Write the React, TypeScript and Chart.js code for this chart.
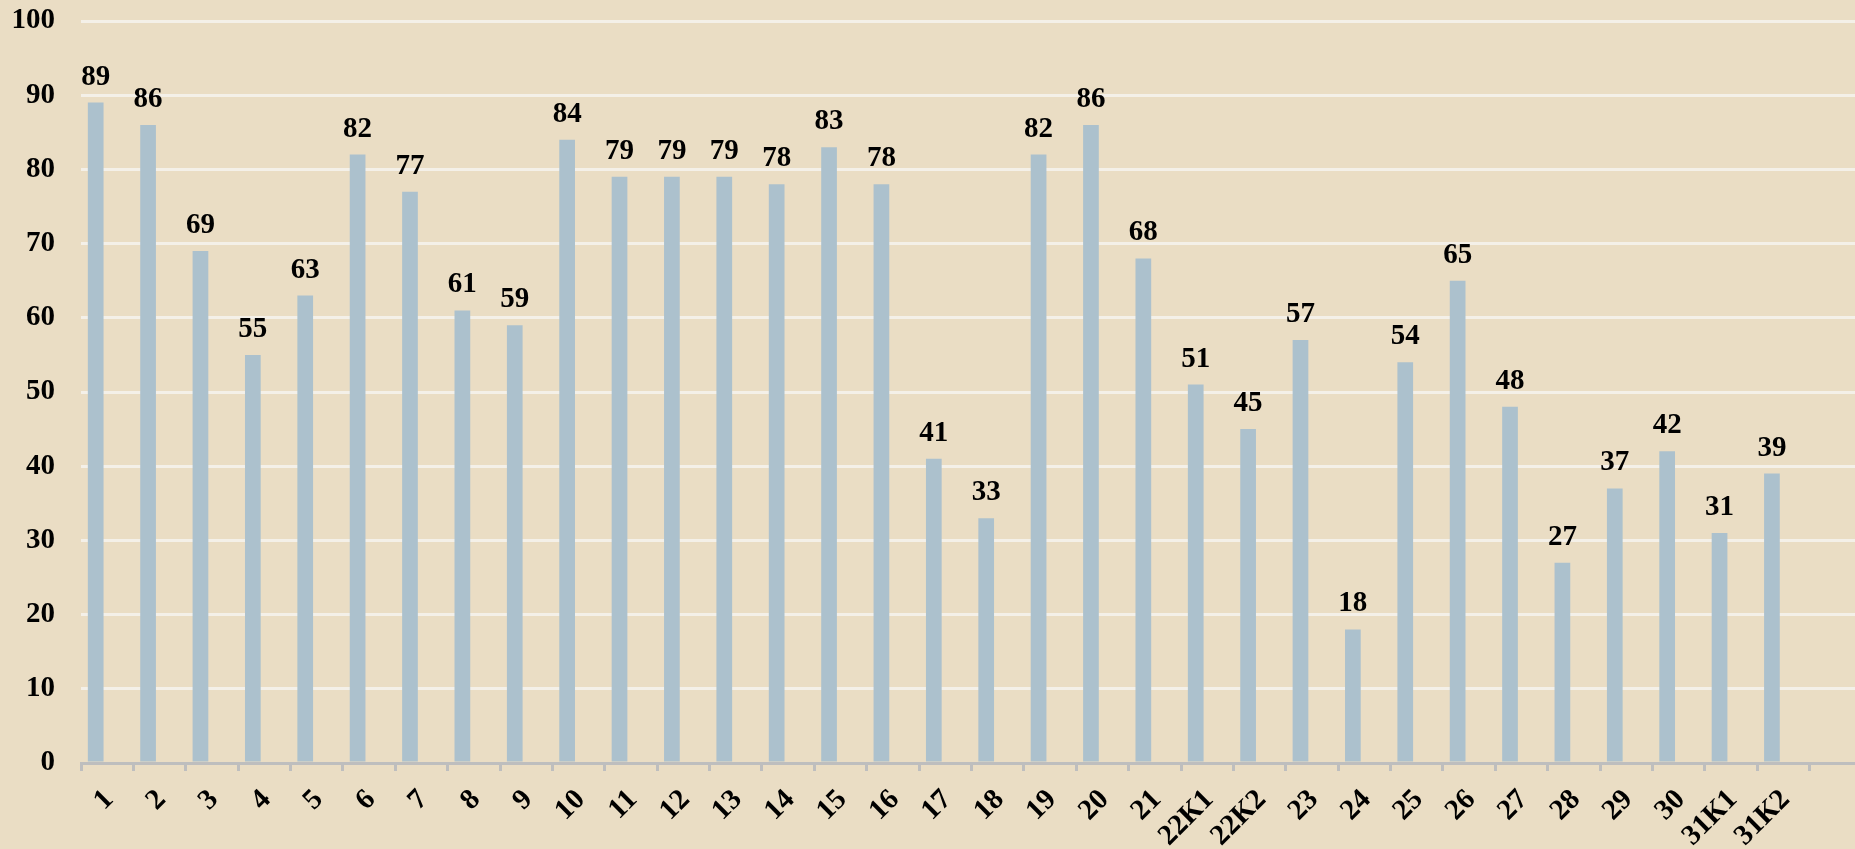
import React, { useEffect, useRef } from "react";
import { Chart, registerables } from "chart.js";

Chart.register(...registerables);

const categories: string[] = [
  "1", "2", "3", "4", "5", "6", "7", "8", "9", "10", "11", "12", "13", "14", "15", "16",
  "17", "18", "19", "20", "21", "22К1", "22К2", "23", "24", "25", "26", "27", "28", "29", "30",
  "31К1", "31К2", "",
];

const values: (number | null)[] = [
  89, 86, 69, 55, 63, 82, 77, 61, 59, 84, 79, 79, 79, 78, 83, 78,
  41, 33, 82, 86, 68, 51, 45, 57, 18, 54, 65, 48, 27, 37, 42,
  31, 39, null,
];

const emptySeries: (number | null)[] = categories.map(() => null);

const yTicks: number[] = [0, 10, 20, 30, 40, 50, 60, 70, 80, 90, 100];

const BG = "rgb(234,221,196)";
const BAR = "rgb(172,193,205)";
const FONT_FAMILY = "'Liberation Serif', 'Times New Roman', serif";

const dataLabels = {
  id: "dataLabels",
  afterDatasetsDraw(chart: any) {
    const ctx = chart.ctx;
    const meta = chart.getDatasetMeta(0);
    ctx.save();
    ctx.font = `bold 29px ${FONT_FAMILY}`;
    ctx.fillStyle = "#000";
    ctx.textAlign = "center";
    ctx.textBaseline = "alphabetic";
    meta.data.forEach((el: any, i: number) => {
      const v = values[i];
      if (v === null || v === undefined) return;
      ctx.fillText(String(v), el.x, el.y - 18);
    });
    ctx.restore();
  },
};

export default function App() {
  const ref = useRef<HTMLCanvasElement | null>(null);
  useEffect(() => {
    if (!ref.current) return;
    const chart = new Chart(ref.current, {
      type: "bar",
      data: {
        labels: categories,
        datasets: [
          {
            data: values,
            backgroundColor: BAR,
            borderWidth: 0,
            categoryPercentage: 0.878,
            barPercentage: 0.683,
          },
          {
            data: emptySeries,
            backgroundColor: BAR,
            borderWidth: 0,
            categoryPercentage: 0.878,
            barPercentage: 0.683,
          },
        ],
      },
      options: {
        responsive: false,
        animation: false,
        devicePixelRatio: 1,
        layout: { padding: { top: 21, left: 0, right: 0, bottom: 0 } },
        plugins: {
          legend: { display: false },
          tooltip: { enabled: false },
        },
        scales: {
          x: {
            offset: true,
            grid: {
              offset: true,
              drawOnChartArea: false,
              drawTicks: true,
              tickLength: 8,
              color: "rgb(190,190,190)",
              lineWidth: 3,
            },
            border: { display: true, color: "rgb(190,190,190)", width: 3 },
            ticks: {
              autoSkip: false,
              minRotation: 45,
              maxRotation: 45,
              color: "#000",
              padding: 12,
              labelOffset: 2,
              font: { family: FONT_FAMILY, size: 29, weight: "bold" },
            },
            afterFit(scale: any) {
              scale.height = 86;
              scale.paddingLeft = 0;
              scale.paddingRight = 0;
            },
          },
          y: {
            min: 0,
            max: 100,
            afterBuildTicks(scale: any) {
              scale.ticks = yTicks.map((v) => ({ value: v }));
            },
            grid: {
              drawTicks: false,
              color: "rgb(244,240,232)",
              lineWidth: 3,
            },
            border: { display: false },
            ticks: {
              color: "#000",
              padding: 26,
              font: { family: FONT_FAMILY, size: 29, weight: "bold" },
            },
            afterFit(scale: any) {
              scale.width = 81;
              scale.paddingTop = 0;
              scale.paddingBottom = 0;
            },
          },
        },
      },
      plugins: [dataLabels],
    });
    return () => chart.destroy();
  }, []);

  return (
    <div
      style={{
        position: "fixed",
        left: 0,
        top: 0,
        width: 1855,
        height: 849,
        overflow: "hidden",
        background: BG,
      }}
    >
      <canvas ref={ref} width={1862} height={849} style={{ display: "block" }} />
    </div>
  );
}
